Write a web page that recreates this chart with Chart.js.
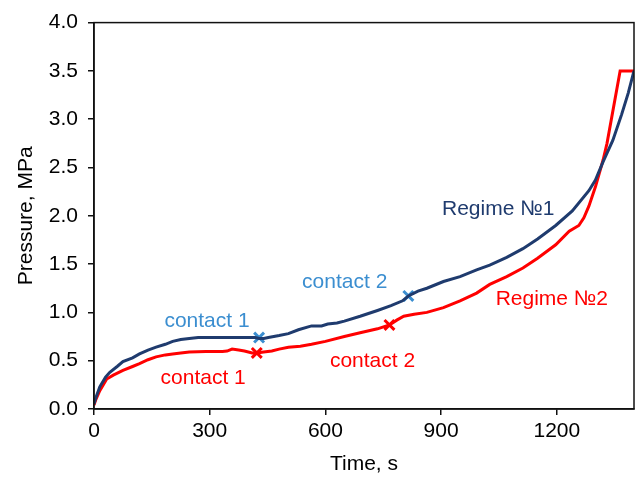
<!DOCTYPE html>
<html>
<head>
<meta charset="utf-8">
<script src="https://cdn.jsdelivr.net/npm/chart.js@4.4.0/dist/chart.umd.min.js"></script>
<style>
    html, body { margin: 0; padding: 0; background: #fff; }
    #wrap { width: 644px; height: 482px; }
</style>
</head>
<body>
<div id="wrap"><canvas id="pressureChart" width="644" height="482"></canvas></div>
<script>
// Regime №1 (dark blue)
const regime1Time = [0, 5, 15, 30, 41, 60, 75, 100, 118, 140, 161, 185, 204, 225, 247, 270, 290, 333, 380, 418, 428, 440, 452, 480, 504, 530, 564, 590, 606, 630, 649, 690, 735, 770, 800, 815, 840, 863, 906, 949, 992, 1026, 1070, 1112, 1150, 1197, 1240, 1283, 1300, 1320, 1345, 1368, 1385, 1400];
const regime1Pressure = [0.05, 0.12, 0.23, 0.33, 0.38, 0.44, 0.49, 0.53, 0.57, 0.61, 0.64, 0.67, 0.70, 0.72, 0.73, 0.74, 0.74, 0.74, 0.74, 0.74, 0.73, 0.73, 0.74, 0.76, 0.78, 0.82, 0.86, 0.86, 0.88, 0.89, 0.91, 0.96, 1.02, 1.07, 1.12, 1.17, 1.22, 1.25, 1.32, 1.37, 1.44, 1.49, 1.57, 1.66, 1.76, 1.90, 2.05, 2.26, 2.37, 2.56, 2.78, 3.05, 3.27, 3.5];

// Regime №2 (red)
const regime2Time = [0, 5, 15, 33, 50, 75, 100, 118, 140, 161, 185, 204, 225, 247, 290, 333, 345, 358, 375, 390, 410, 422, 440, 461, 480, 504, 535, 564, 600, 649, 690, 735, 766, 785, 803, 830, 863, 906, 949, 992, 1026, 1070, 1112, 1150, 1197, 1232, 1257, 1270, 1283, 1300, 1320, 1330, 1364, 1400];
const regime2Pressure = [0.04, 0.10, 0.19, 0.31, 0.35, 0.40, 0.44, 0.47, 0.51, 0.54, 0.56, 0.57, 0.58, 0.59, 0.595, 0.595, 0.60, 0.62, 0.61, 0.60, 0.58, 0.58, 0.59, 0.60, 0.62, 0.64, 0.65, 0.67, 0.70, 0.75, 0.79, 0.83, 0.87, 0.92, 0.96, 0.98, 1.00, 1.05, 1.12, 1.20, 1.29, 1.37, 1.46, 1.56, 1.70, 1.84, 1.90, 1.98, 2.10, 2.30, 2.58, 2.75, 3.5, 3.5];

// contact points
const contact1Time = [428, 815];
const contact1Pressure = [0.74, 1.17];
const contact2Time = [422, 766];
const contact2Pressure = [0.58, 0.87];

// text labels inside the plot
const noteText = ['contact 1', 'contact 2', 'contact 1', 'contact 2', 'Regime №1', 'Regime №2'];
const noteTime = [293, 650, 283, 722, 1048, 1187];
const notePressure = [0.91, 1.31, 0.32, 0.49, 2.07, 1.14];
const noteColor = ['#3B8ED0', '#3B8ED0', '#FF0000', '#FF0000', '#1F3B6E', '#FF0000'];

const xTicks = [0, 300, 600, 900, 1200];

const FONT = '"Liberation Sans", Arial, sans-serif';
const FONT_SIZE = 21;
const NAVY = '#1F3B6E';
const LIGHT_BLUE = '#3B8ED0';
const RED = '#FF0000';

function toPoints(xs, ys) {
    return xs.map((x, i) => ({ x: x, y: ys[i] }));
}

const framePlugin = {
    id: 'frame',
    afterDraw(chart) {
        const { ctx, chartArea } = chart;
        ctx.save();
        ctx.strokeStyle = '#111';
        ctx.lineWidth = 1.5;
        ctx.strokeRect(chartArea.left, chartArea.top, chartArea.right - chartArea.left, chartArea.bottom - chartArea.top);
        ctx.restore();
    }
};

const notesPlugin = {
    id: 'notes',
    afterDatasetsDraw(chart) {
        const { ctx, scales } = chart;
        ctx.save();
        ctx.font = FONT_SIZE + 'px ' + FONT;
        ctx.textAlign = 'center';
        ctx.textBaseline = 'middle';
        noteText.forEach((t, i) => {
            ctx.fillStyle = noteColor[i];
            ctx.fillText(t, scales.x.getPixelForValue(noteTime[i]), scales.y.getPixelForValue(notePressure[i]));
        });
        ctx.restore();
    }
};

Chart.defaults.font.family = FONT;
Chart.defaults.color = '#000';

const ctx = document.getElementById('pressureChart').getContext('2d');

new Chart(ctx, {
    type: 'line',
    data: {
        datasets: [
            {
                label: 'Regime №1',
                data: toPoints(regime1Time, regime1Pressure),
                borderColor: NAVY,
                borderWidth: 3,
                pointRadius: 0,
                tension: 0
            },
            {
                label: 'Regime №2',
                data: toPoints(regime2Time, regime2Pressure),
                borderColor: RED,
                borderWidth: 3,
                pointRadius: 0,
                tension: 0
            },
            {
                label: 'contact (Regime №1)',
                data: toPoints(contact1Time, contact1Pressure),
                showLine: false,
                pointStyle: 'crossRot',
                pointRadius: 7,
                pointBorderWidth: 3,
                borderColor: LIGHT_BLUE
            },
            {
                label: 'contact (Regime №2)',
                data: toPoints(contact2Time, contact2Pressure),
                showLine: false,
                pointStyle: 'crossRot',
                pointRadius: 7,
                pointBorderWidth: 3,
                borderColor: RED
            }
        ]
    },
    options: {
        responsive: false,
        animation: false,
        layout: { padding: { left: 0, right: 3, top: 19, bottom: 0 } },
        plugins: {
            legend: { display: false },
            tooltip: { enabled: false }
        },
        scales: {
            x: {
                type: 'linear',
                min: 0,
                max: 1400,
                afterBuildTicks: function (scale) {
                    scale.ticks = xTicks.map(v => ({ value: v }));
                },
                afterFit: function (scale) {
                    scale.height = 73;
                },
                ticks: {
                    font: { size: FONT_SIZE },
                    color: '#000',
                    padding: 4,
                    maxRotation: 0,
                    callback: v => String(v)
                },
                grid: {
                    drawOnChartArea: false,
                    drawTicks: true,
                    tickLength: 6,
                    color: '#111',
                    lineWidth: 1.5
                },
                border: { display: true, color: '#111', width: 1.5 },
                title: {
                    display: true,
                    text: 'Time, s',
                    font: { size: FONT_SIZE },
                    color: '#000',
                    padding: { top: 0, bottom: 5 }
                }
            },
            y: {
                min: 0,
                max: 4,
                afterFit: function (scale) {
                    scale.width = 94;
                },
                ticks: {
                    stepSize: 0.5,
                    font: { size: FONT_SIZE },
                    color: '#000',
                    padding: 10,
                    callback: v => v.toFixed(1)
                },
                grid: {
                    drawOnChartArea: false,
                    drawTicks: true,
                    tickLength: 6,
                    color: '#111',
                    lineWidth: 1.5
                },
                border: { display: true, color: '#111', width: 1.5 },
                title: {
                    display: true,
                    text: 'Pressure, MPa',
                    font: { size: FONT_SIZE },
                    color: '#000',
                    padding: { top: 14, bottom: 0 }
                }
            }
        }
    },
    plugins: [framePlugin, notesPlugin]
});
</script>
</body>
</html>
